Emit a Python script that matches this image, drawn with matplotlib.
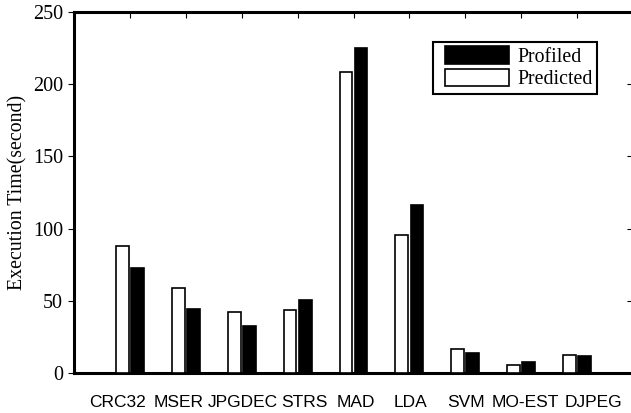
import matplotlib
matplotlib.use("Agg")
import matplotlib.pyplot as plt
import matplotlib.lines as mlines
import matplotlib.patches as mpatches
import numpy as np

categories = ["CRC32", "MSER", "JPGDEC", "STRS", "MAD", "LDA", "SVM", "MO-EST", "DJPEG"]
predicted = [88, 58.9, 42, 43.8, 208.5, 95.8, 16.6, 5.5, 12.7]
profiled = [73, 44.5, 32.3, 50.8, 224.8, 116, 14, 7.6, 12]
y_ticks = [0, 50, 100, 150, 200, 250]
# horizontal nudges of category labels (data units), as placed in the original
label_shift = [-0.22, -0.125, 0.02, 0.13, 0.035, 0.02, 0.01, 0.08, 0.30]

serif = ["Liberation Serif", "DejaVu Serif"]
sans = ["Liberation Sans", "DejaVu Sans"]

W, H = 631, 413
fig = plt.figure(figsize=(W/100, H/100), dpi=100)
ax = fig.add_axes([74/W, 1-373/H, 559/W, 361/H])

x = np.arange(1, len(categories) + 1)
w = 0.23
ax.bar(x - 0.135, predicted, w, color="white", edgecolor="black", linewidth=1.2, label="Predicted", zorder=3)
ax.bar(x + 0.135, profiled, w, color="black", edgecolor="black", linewidth=1.2, label="Profiled", zorder=3)

ax.set_xlim(0, 10)
ax.set_ylim(0, 250)

ax.set_yticks(y_ticks)
ax.set_yticklabels([str(v) for v in y_ticks], fontfamily=serif, fontsize=14.5)

ax.set_xticks(x)
ax.set_xticklabels([])
ax.tick_params(axis="x", which="major", bottom=False, top=True, direction="in", length=4, width=0.8)
ax.set_xticks(x + np.array(label_shift), minor=True)
ax.set_xticklabels(categories, minor=True, fontfamily=sans, fontsize=12.5)
ax.tick_params(axis="x", which="minor", bottom=False, top=False, labelbottom=True, pad=14)

ax.tick_params(axis="y", which="both", left=True, right=True, direction="out", length=4, width=0.8, pad=4)
for t in ax.yaxis.get_major_ticks():
    t.tick2line.set_marker(mlines.TICKLEFT)

ax.set_ylabel("Execution Time(second)", fontfamily=serif, fontsize=14.3, labelpad=4)

for s in ["left", "bottom", "top"]:
    ax.spines[s].set_linewidth(2.2)
ax.spines["right"].set_visible(False)

# legend frame (pixel box 433..597 x 42..94)
def ax_frac(px, py):
    return (px - 74) / 559, (373 - py) / 361
fx0, fy0 = ax_frac(433, 94)
fx1, fy1 = ax_frac(597, 42)
ax.add_patch(mpatches.Rectangle((fx0, fy0), fx1 - fx0, fy1 - fy0, transform=ax.transAxes,
                                fill=True, facecolor="white", edgecolor="black",
                                linewidth=1.5, zorder=4, clip_on=False))

handles, labels = ax.get_legend_handles_labels()
lx, ly = ax_frac(445, 46)
leg = ax.legend(handles[::-1], labels[::-1], loc="upper left",
                bbox_to_anchor=(lx, ly),
                prop={"family": serif, "size": 14.3}, frameon=False,
                handlelength=3.2, handleheight=1.0,
                handletextpad=0.45, labelspacing=0.1, borderpad=0.0,
                borderaxespad=0)
leg.set_zorder(5)

fig.savefig("out.png", dpi=100)
